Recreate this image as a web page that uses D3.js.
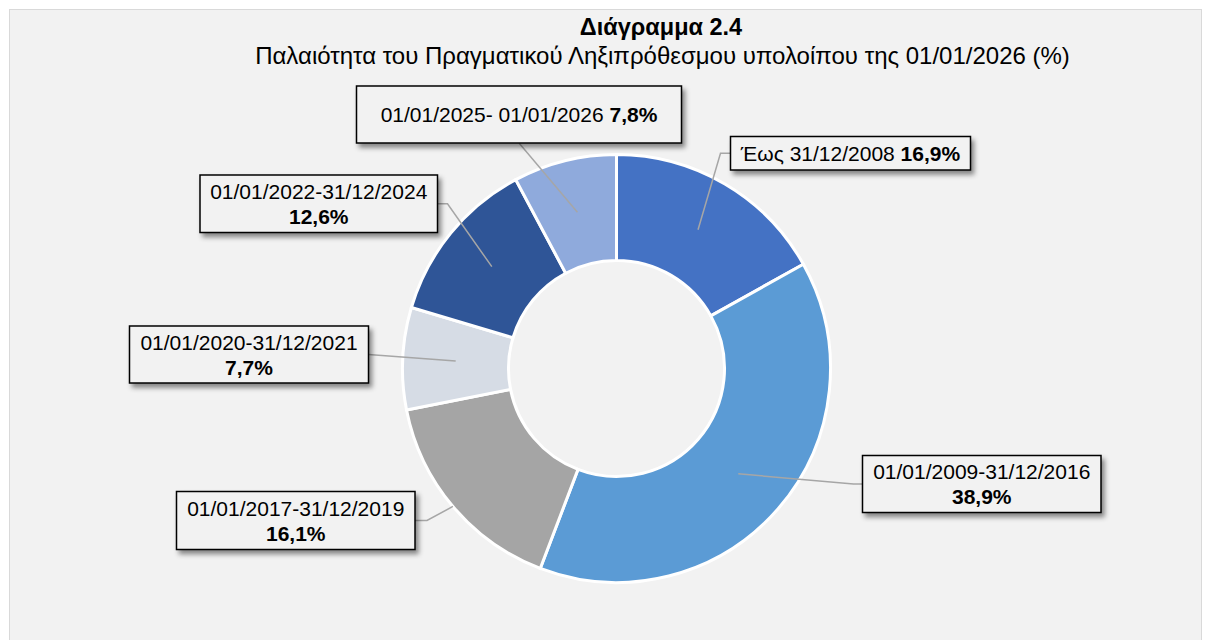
<!DOCTYPE html>
<html>
<head>
<meta charset="utf-8">
<script src="https://cdn.jsdelivr.net/npm/d3@7"></script>
<style>
    body { margin: 0; background: #ffffff; }
    text { font-family: "Liberation Sans", Arial, sans-serif; fill: #000; }
</style>
</head>
<body>
<script>
//wrap everything in an anonymous function so nothing ends up in global scope
(function (){

    //chart data
    var categories = [
        "Έως 31/12/2008",
        "01/01/2009-31/12/2016",
        "01/01/2017-31/12/2019",
        "01/01/2020-31/12/2021",
        "01/01/2022-31/12/2024",
        "01/01/2025- 01/01/2026"
    ];
    var values = [16.9, 38.9, 16.1, 7.7, 12.6, 7.8]; //share of overdue balance (%)
    var titleText = "Διάγραμμα 2.4";
    var subtitleText = "Παλαιότητα του Πραγματικού Ληξιπρόθεσμου υπολοίπου της 01/01/2026 (%)";

    //slice colours, same order as categories
    var palette = ["#4472c4", "#5b9bd5", "#a5a5a5", "#d6dce5", "#2f5597", "#8faadc"];

    //label boxes (layout only): box rect, lines of text, where the leader attaches
    var labelLayout = [
        {x: 730.5, y: 136.5, w: 240, h: 33.5, oneLine: true,  side: "left",   elbow: 10, edge: false},
        {x: 862.5, y: 455.5, w: 238.5, h: 57, oneLine: false, side: "left",   elbow: 9,  edge: false},
        {x: 176.5, y: 491.5, w: 238.5, h: 58, oneLine: false, side: "right",  elbow: 12, edge: true},
        {x: 129.5, y: 326,   w: 239, h: 57,  oneLine: false,  side: "right",  elbow: 0,  edge: false},
        {x: 200,   y: 175,   w: 237.5, h: 57.5, oneLine: false, side: "right", elbow: 10, edge: false},
        {x: 356.5, y: 86,    w: 325, h: 57,  oneLine: true,   side: "bottom", elbow: 0,  edge: false}
    ];

    var width = 1212, height = 640;
    var cx = 616.5, cy = 368.5, outerR = 214, innerR = 108;

    //greek style decimal comma
    var locale = d3.formatLocale({decimal: ",", thousands: ".", grouping: [3], currency: ["", "€"]});
    var fmt = locale.format(".1f");

    window.onload = drawChart();

    function drawChart(){

        var svg = d3.select("body")
            .append("svg")
            .attr("width", width)
            .attr("height", height);

        //soft shadow for the label boxes
        var defs = svg.append("defs");
        defs.append("filter")
            .attr("id", "shadow")
            .attr("x", "-10%").attr("y", "-30%")
            .attr("width", "130%").attr("height", "180%")
            .append("feDropShadow")
            .attr("dx", 3)
            .attr("dy", 4)
            .attr("stdDeviation", 2.5)
            .attr("flood-color", "#000")
            .attr("flood-opacity", 0.45);

        //chart area background
        svg.append("rect")
            .attr("x", 9.5)
            .attr("y", 9.5)
            .attr("width", 1192)
            .attr("height", 650)
            .style("fill", "#f2f2f2")
            .style("stroke", "#d9d9d9")
            .style("stroke-width", 1);

        //titles
        svg.append("text")
            .attr("x", 661)
            .attr("y", 35)
            .attr("text-anchor", "middle")
            .style("font-size", "23.5px")
            .style("font-weight", "bold")
            .text(titleText);

        svg.append("text")
            .attr("x", 662.5)
            .attr("y", 64)
            .attr("text-anchor", "middle")
            .style("font-size", "24px")
            .text(subtitleText);

        var data = values.map(function(v, i){
            return {name: categories[i], value: v, color: palette[i], layout: labelLayout[i]};
        });

        var pie = d3.pie()
            .sort(null)
            .value(function(d){ return d.value; });

        var arc = d3.arc()
            .innerRadius(innerR)
            .outerRadius(outerR);

        var rimArc = d3.arc()
            .innerRadius(outerR)
            .outerRadius(outerR);

        var arcs = pie(data);

        var g = svg.append("g")
            .attr("transform", "translate(" + cx + "," + cy + ")");

        //donut slices
        g.selectAll(".slice")
            .data(arcs)
            .enter()
            .append("path")
            .attr("class", "slice")
            .attr("d", arc)
            .style("fill", function(d){ return d.data.color; })
            .style("stroke", "#ffffff")
            .style("stroke-width", 3);

        //leader lines from the slice to its label box
        g.selectAll(".leader")
            .data(arcs)
            .enter()
            .append("polyline")
            .attr("class", "leader")
            .attr("points", function(d){
                var L = d.data.layout;
                var p = L.edge ? rimArc.centroid(d) : arc.centroid(d);
                var start, elbow;
                if (L.side == "left"){
                    start = [L.x - cx, L.y + L.h / 2 - cy];
                    elbow = [start[0] - L.elbow, start[1]];
                } else if (L.side == "right"){
                    start = [L.x + L.w - cx, L.y + L.h / 2 - cy];
                    elbow = [start[0] + L.elbow, start[1]];
                } else {
                    start = [L.x + L.w / 2 - cx, L.y + L.h - cy];
                    elbow = start;
                }
                return [start, elbow, p].map(function(q){ return q.join(","); }).join(" ");
            })
            .style("fill", "none")
            .style("stroke", "#a6a6a6")
            .style("stroke-width", 1.5);

        //label boxes
        var labels = svg.selectAll(".label")
            .data(arcs)
            .enter()
            .append("g")
            .attr("class", "label");

        labels.append("rect")
            .attr("x", function(d){ return d.data.layout.x; })
            .attr("y", function(d){ return d.data.layout.y; })
            .attr("width", function(d){ return d.data.layout.w; })
            .attr("height", function(d){ return d.data.layout.h; })
            .style("fill", "#f2f2f2")
            .style("stroke", "#000")
            .style("stroke-width", 1.5)
            .attr("filter", "url(#shadow)");

        labels.each(function(d){
            var L = d.data.layout;
            var mx = L.x + L.w / 2, my = L.y + L.h / 2;
            var t = d3.select(this).append("text")
                .attr("text-anchor", "middle")
                .style("font-size", "21px");
            if (L.oneLine){
                t.attr("x", mx).attr("y", my + 7.5);
                t.append("tspan").text(d.data.name + " ");
                t.append("tspan").style("font-weight", "bold").text(fmt(d.data.value) + "%");
            } else {
                t.append("tspan").attr("x", mx).attr("y", my - 5).text(d.data.name);
                t.append("tspan").attr("x", mx).attr("y", my + 20)
                    .style("font-weight", "bold")
                    .text(fmt(d.data.value) + "%");
            }
        });
    };

})();
</script>
</body>
</html>
